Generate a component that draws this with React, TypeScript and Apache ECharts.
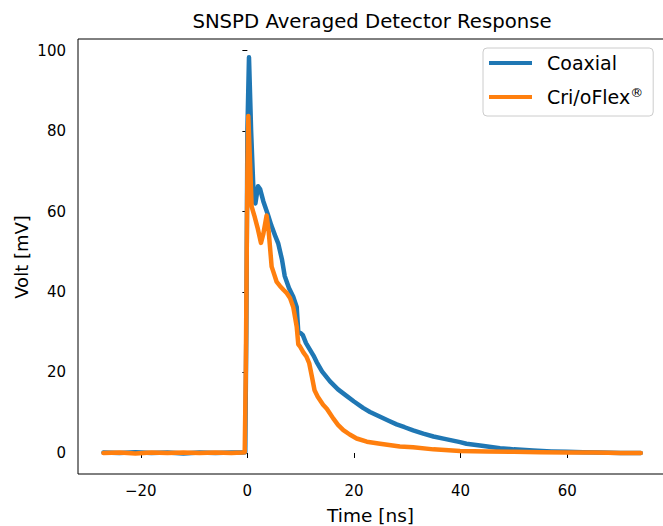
import React, { useEffect, useRef } from "react";
import * as echarts from "echarts";

const coaxialTime = [-27, -24, -21, -18, -15, -12, -9, -6, -3, -1, -0.4, -0.2, 0, 0.3, 0.7, 1.2, 1.5, 2.0, 2.4, 3.0, 3.9, 4.5, 5.2, 5.8, 6.5, 7.0, 7.8, 8.6, 9.25, 9.55, 10.0, 10.4, 11.0, 12.4, 13.0, 14.0, 15.5, 17.0, 18.6, 20.0, 21.7, 23.0, 24.9, 26.5, 28.0, 29.5, 31.1, 33.0, 34.9, 37.0, 39.9, 41.1, 44.0, 47.4, 50.0, 53.6, 57.0, 59.9, 63.0, 66.0, 70.0, 73.8];
const coaxialVolt = [0.1, 0.0, 0.2, 0.0, 0.1, -0.1, 0.1, 0.0, 0.1, 0.1, 0.2, 30, 80, 98.3, 80, 63, 62, 66.3, 65.5, 62.5, 59, 56.5, 54, 52, 48, 44, 41, 38.8, 36.3, 30, 29.8, 29.3, 27.3, 24.2, 22.6, 20.3, 17.8, 15.8, 14.2, 12.8, 11.2, 10.2, 9.0, 8.0, 7.1, 6.4, 5.6, 4.8, 4.1, 3.5, 2.7, 2.3, 1.8, 1.2, 0.9, 0.6, 0.4, 0.3, 0.2, 0.1, 0.0, 0.0];

const crioflexTime = [-27, -24, -21, -18, -15, -12, -9, -6, -3, -1, -0.5, -0.3, 0.0, 0.17, 0.5, 0.8, 1.3, 1.9, 2.55, 3.0, 3.6, 4.0, 4.55, 5.0, 5.5, 6.1, 6.8, 7.4, 8.0, 8.6, 9.25, 9.55, 9.9, 10.5, 11.1, 11.6, 12.1, 12.6, 13.2, 14.2, 14.9, 16.1, 17.0, 18.0, 19.2, 20.5, 22.4, 24.9, 28.6, 31.1, 34.9, 39.9, 45, 50, 55, 60, 65, 70, 73.8];
const crioflexVolt = [0.0, 0.1, -0.1, 0.1, 0.0, 0.1, 0.0, 0.1, 0.0, 0.1, 0.2, 20, 70, 83.7, 72, 61.2, 59, 56, 52.2, 54.5, 59, 55, 46.3, 44.5, 42.5, 41.5, 40.5, 39.7, 38.5, 36.3, 31.4, 27, 26.4, 25, 23.9, 22.3, 19, 15.6, 14.0, 12.0, 11.0, 8.6, 7.0, 5.7, 4.6, 3.6, 2.8, 2.3, 1.6, 1.4, 0.9, 0.5, 0.4, 0.3, 0.2, 0.1, 0.1, 0.0, 0.0];

const xTicks = [-20, 0, 20, 40, 60];
const yTicks = [0, 20, 40, 60, 80, 100];

const seriesNames = ["Coaxial", "Cri/oFlex®"];
const seriesColors = ["#1f77b4", "#ff7f0e"];

const FONT = "DejaVu Sans";
const CHART_W = 700;

export default function App() {
  const ref = useRef<HTMLDivElement>(null);
  useEffect(() => {
    if (!ref.current) return;
    const chart = echarts.init(ref.current, null, { renderer: "svg" });
    const pairs = (xs: number[], ys: number[]) => xs.map((x, i) => [x, ys[i]]);
    const gridLeft = 78;
    const gridTop = 39;
    const gridW = 589.4;
    const gridH = 435;
    chart.setOption({
      animation: false,
      textStyle: { fontFamily: FONT },
      grid: {
        left: gridLeft,
        top: gridTop,
        right: CHART_W - gridLeft - gridW,
        height: gridH,
        show: true,
        borderColor: "#000",
        borderWidth: 1,
        backgroundColor: "transparent",
      },
      xAxis: {
        type: "value",
        min: -31.78,
        max: 78.8,
        axisLine: { show: false },
        splitLine: { show: false },
        axisTick: { show: true, length: 5, lineStyle: { color: "#000" }, customValues: xTicks },
        axisLabel: {
          customValues: xTicks,
          color: "#000",
          fontSize: 15,
          fontFamily: FONT,
          margin: 9,
          formatter: (v: number) => (v < 0 ? "\u2212" + Math.abs(v) : String(v)),
        },
      },
      yAxis: {
        type: "value",
        min: -5.22,
        max: 102.86,
        axisLine: { show: false },
        splitLine: { show: false },
        axisTick: { show: true, length: 5, lineStyle: { color: "#000" }, customValues: yTicks },
        axisLabel: {
          customValues: yTicks,
          color: "#000",
          fontSize: 15,
          fontFamily: FONT,
          margin: 12,
        },
      },
      legend: {
        left: 483,
        top: 48,
        orient: "vertical",
        icon: "rect",
        itemWidth: 43,
        itemHeight: 4,
        itemGap: 12,
        padding: [4, 10, 8, 6],
        borderColor: "#cccccc",
        borderWidth: 1,
        borderRadius: 4,
        backgroundColor: "rgba(255,255,255,0.8)",
        data: seriesNames,
        formatter: (name: string) =>
          name.endsWith("®") ? name.slice(0, -1) + "{sup|®}" : name,
        textStyle: {
          color: "#000",
          fontSize: 19,
          fontFamily: FONT,
          lineHeight: 22,
          padding: [0, 0, 0, 10],
          rich: {
            sup: { fontSize: 13, lineHeight: 13, verticalAlign: "top", fontFamily: FONT, color: "#000" },
          },
        },
      },
      graphic: [
        {
          type: "text",
          x: 372,
          y: 21,
          style: {
            text: "SNSPD Averaged Detector Response",
            fontSize: 19.7,
            fontFamily: FONT,
            fill: "#000",
            textAlign: "center",
            textVerticalAlign: "middle",
          },
        },
        {
          type: "text",
          x: 370.6,
          y: 515,
          style: {
            text: "Time [ns]",
            fontSize: 18.5,
            fontFamily: FONT,
            fill: "#000",
            textAlign: "center",
            textVerticalAlign: "middle",
          },
        },
        {
          type: "text",
          x: 21,
          y: 257,
          rotation: Math.PI / 2,
          style: {
            text: "Volt [mV]",
            fontSize: 18,
            fontFamily: FONT,
            fill: "#000",
            textAlign: "center",
            textVerticalAlign: "middle",
          },
        },
      ],
      series: [
        {
          name: seriesNames[0],
          type: "line",
          data: pairs(coaxialTime, coaxialVolt),
          showSymbol: false,
          symbol: "none",
          color: seriesColors[0],
          lineStyle: { width: 4.5, color: seriesColors[0], cap: "round", join: "round" },
          clip: true,
        },
        {
          name: seriesNames[1],
          type: "line",
          data: pairs(crioflexTime, crioflexVolt),
          showSymbol: false,
          symbol: "none",
          color: seriesColors[1],
          lineStyle: { width: 4.5, color: seriesColors[1], cap: "round", join: "round" },
          clip: true,
        },
      ],
    });
    return () => chart.dispose();
  }, []);
  return (
    <div
      style={{ position: "fixed", left: 0, top: 0, width: 663, height: 526, overflow: "hidden", background: "#fff" }}
    >
      <div ref={ref} style={{ width: CHART_W, height: 526 }} />
    </div>
  );
}
